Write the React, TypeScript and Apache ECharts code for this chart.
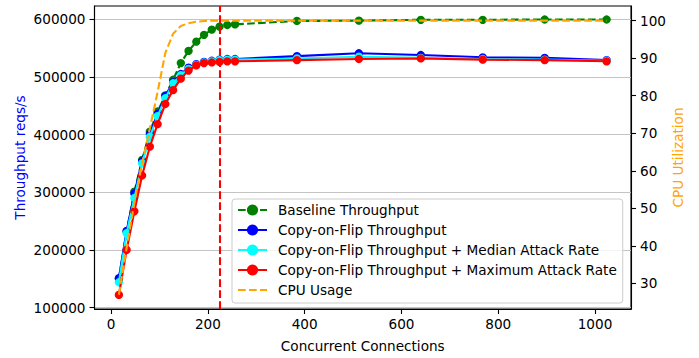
import React, { useEffect, useRef } from "react";
import * as echarts from "echarts";

const connections = [16, 32, 48, 64, 80, 96, 112, 128, 144, 160, 176, 192, 208, 224, 240, 256, 384, 512, 640, 768, 896, 1024];
const baseline = [150000, 232000, 301000, 356000, 405000, 440000, 468000, 495000, 524000, 545000, 561000, 573000, 582000, 587000, 590000, 591000, 597000, 597500, 599000, 599000, 599500, 599500];
const copyOnFlip = [151000, 233000, 298000, 354000, 401000, 436000, 467000, 491000, 505000, 516000, 522000, 526000, 528000, 530000, 531000, 531000, 536000, 541000, 538000, 534000, 533000, 529000];
const medianAttack = [144000, 229000, 290000, 350000, 396000, 432000, 463000, 489000, 503000, 514000, 521000, 525000, 527000, 529000, 530000, 530000, 532000, 535000, 533000, 531000, 530000, 528000];
const maxAttack = [122000, 200000, 267000, 329000, 379000, 418000, 453000, 477000, 497000, 511000, 520000, 524000, 525000, 526000, 527000, 527000, 529000, 531000, 532000, 530000, 529000, 527000];
const cpuUsage = [27, 39.5, 51.5, 62, 71.3, 81, 91.4, 96.5, 98.6, 99.3, 99.7, 99.9, 100, 100, 100, 100, 100, 100, 100, 100, 100, 100];
const markerConnections = 224;

const xTicks = [0, 200, 400, 600, 800, 1000];
const leftTicks = [100000, 200000, 300000, 400000, 500000, 600000];
const rightTicks = [30, 40, 50, 60, 70, 80, 90, 100];

const seriesNames = [
  "Baseline Throughput",
  "Copy-on-Flip Throughput",
  "Copy-on-Flip Throughput + Median Attack Rate",
  "Copy-on-Flip Throughput + Maximum Attack Rate",
  "CPU Usage",
];

const FONT = "DejaVu Sans";
const FS = 13.6;
const DASH = [7.7, 3.3];

function pairs(ys: number[]) {
  return connections.map((x, i) => [x, ys[i]]);
}

const plain = (v: number) => String(v);

export default function App() {
  const ref = useRef<HTMLDivElement>(null);
  useEffect(() => {
    if (!ref.current) return;
    const chart = echarts.init(ref.current, null, { renderer: "svg" });
    const tickCommon = { show: true, length: 5, inside: false, lineStyle: { color: "#000", width: 1.1 } };
    const labelCommon = { color: "#000", fontFamily: FONT, fontSize: FS, formatter: plain };
    const lineSeries = (name: string, ys: number[], color: string, z: number, dashed: boolean) => ({
      type: "line",
      name,
      data: pairs(ys),
      yAxisIndex: 0,
      z,
      symbol: "circle",
      symbolSize: 8.3,
      showSymbol: true,
      itemStyle: { color },
      lineStyle: { color, width: 2.1, type: dashed ? DASH : "solid" },
      emphasis: { disabled: true },
    });
    chart.setOption({
      animation: false,
      grid: {
        left: 94.5,
        right: 699 - 631,
        top: 6,
        bottom: 358 - 310.7,
        show: true,
        borderColor: "#000",
        borderWidth: 1.1,
        backgroundColor: "transparent",
      },
      legend: {
        show: true,
        orient: "vertical",
        left: 232,
        top: 199,
        padding: [4, 6, 6, 5],
        itemWidth: 29,
        itemHeight: 14,
        itemGap: 6,
        borderColor: "#cccccc",
        borderWidth: 1,
        borderRadius: 3,
        backgroundColor: "rgba(255,255,255,0.8)",
        textStyle: { color: "#000", fontFamily: FONT, fontSize: FS, lineHeight: 14, padding: [0, 0, 0, 6] },
        data: [
          { name: seriesNames[0] },
          { name: seriesNames[1] },
          { name: seriesNames[2] },
          { name: seriesNames[3] },
          { name: seriesNames[4], itemStyle: { color: "rgba(0,0,0,0)", borderWidth: 0 } },
        ],
        selectedMode: false,
      },
      xAxis: {
        type: "value",
        min: -34.4,
        max: 1074.4,
        name: "Concurrent Connections",
        nameLocation: "middle",
        nameGap: 30,
        nameMoveOverlap: false,
        nameTextStyle: { color: "#000", fontFamily: FONT, fontSize: FS },
        axisLine: { show: true, onZero: false, lineStyle: { color: "#000", width: 1.1 } },
        axisTick: { ...tickCommon, customValues: xTicks },
        axisLabel: { ...labelCommon, margin: 8, customValues: xTicks },
        splitLine: { show: false },
      },
      yAxis: [
        {
          type: "value",
          min: 97600,
          max: 622900,
          position: "left",
          name: "Throughput reqs/s",
          nameLocation: "middle",
          nameGap: 68,
          nameMoveOverlap: false,
          nameTextStyle: { color: "#0000ff", fontFamily: FONT, fontSize: FS },
          axisLine: { show: true, onZero: false, lineStyle: { color: "#000", width: 1.1 } },
          axisTick: { ...tickCommon, customValues: leftTicks },
          axisLabel: { ...labelCommon, margin: 9, customValues: leftTicks },
          splitLine: { show: true, lineStyle: { color: "#c4c4c4", width: 1.1 } },
        },
        {
          type: "value",
          min: 23.2,
          max: 103.9,
          position: "right",
          name: "CPU Utilization",
          nameLocation: "middle",
          nameGap: 40,
          nameMoveOverlap: false,
          nameTextStyle: { color: "#ffa500", fontFamily: FONT, fontSize: FS },
          axisLine: { show: true, onZero: false, lineStyle: { color: "#000", width: 1.1 } },
          axisTick: { ...tickCommon, customValues: rightTicks },
          axisLabel: { ...labelCommon, margin: 9, customValues: rightTicks },
          splitLine: { show: false },
        },
      ],
      series: [
        lineSeries(seriesNames[0], baseline, "#008000", 2, true),
        lineSeries(seriesNames[1], copyOnFlip, "#0000ff", 3, false),
        lineSeries(seriesNames[2], medianAttack, "#00ffff", 4, false),
        lineSeries(seriesNames[3], maxAttack, "#ff0000", 5, false),
        {
          type: "line",
          name: seriesNames[4],
          data: pairs(cpuUsage),
          yAxisIndex: 1,
          z: 6,
          symbol: "none",
          showSymbol: false,
          itemStyle: { color: "#ffa500" },
          lineStyle: { color: "#ffa500", width: 2.1, type: DASH },
          emphasis: { disabled: true },
          markLine: {
            silent: true,
            symbol: ["none", "none"],
            label: { show: false },
            lineStyle: { color: "#ff0000", width: 2.1, type: DASH },
            emphasis: { disabled: true },
            data: [{ xAxis: markerConnections }],
          },
        },
      ],
    });
    return () => chart.dispose();
  }, []);
  return (
    <div
      ref={ref}
      style={{ position: "fixed", left: 0, top: 0, width: 699, height: 358, background: "#fff" }}
    />
  );
}
